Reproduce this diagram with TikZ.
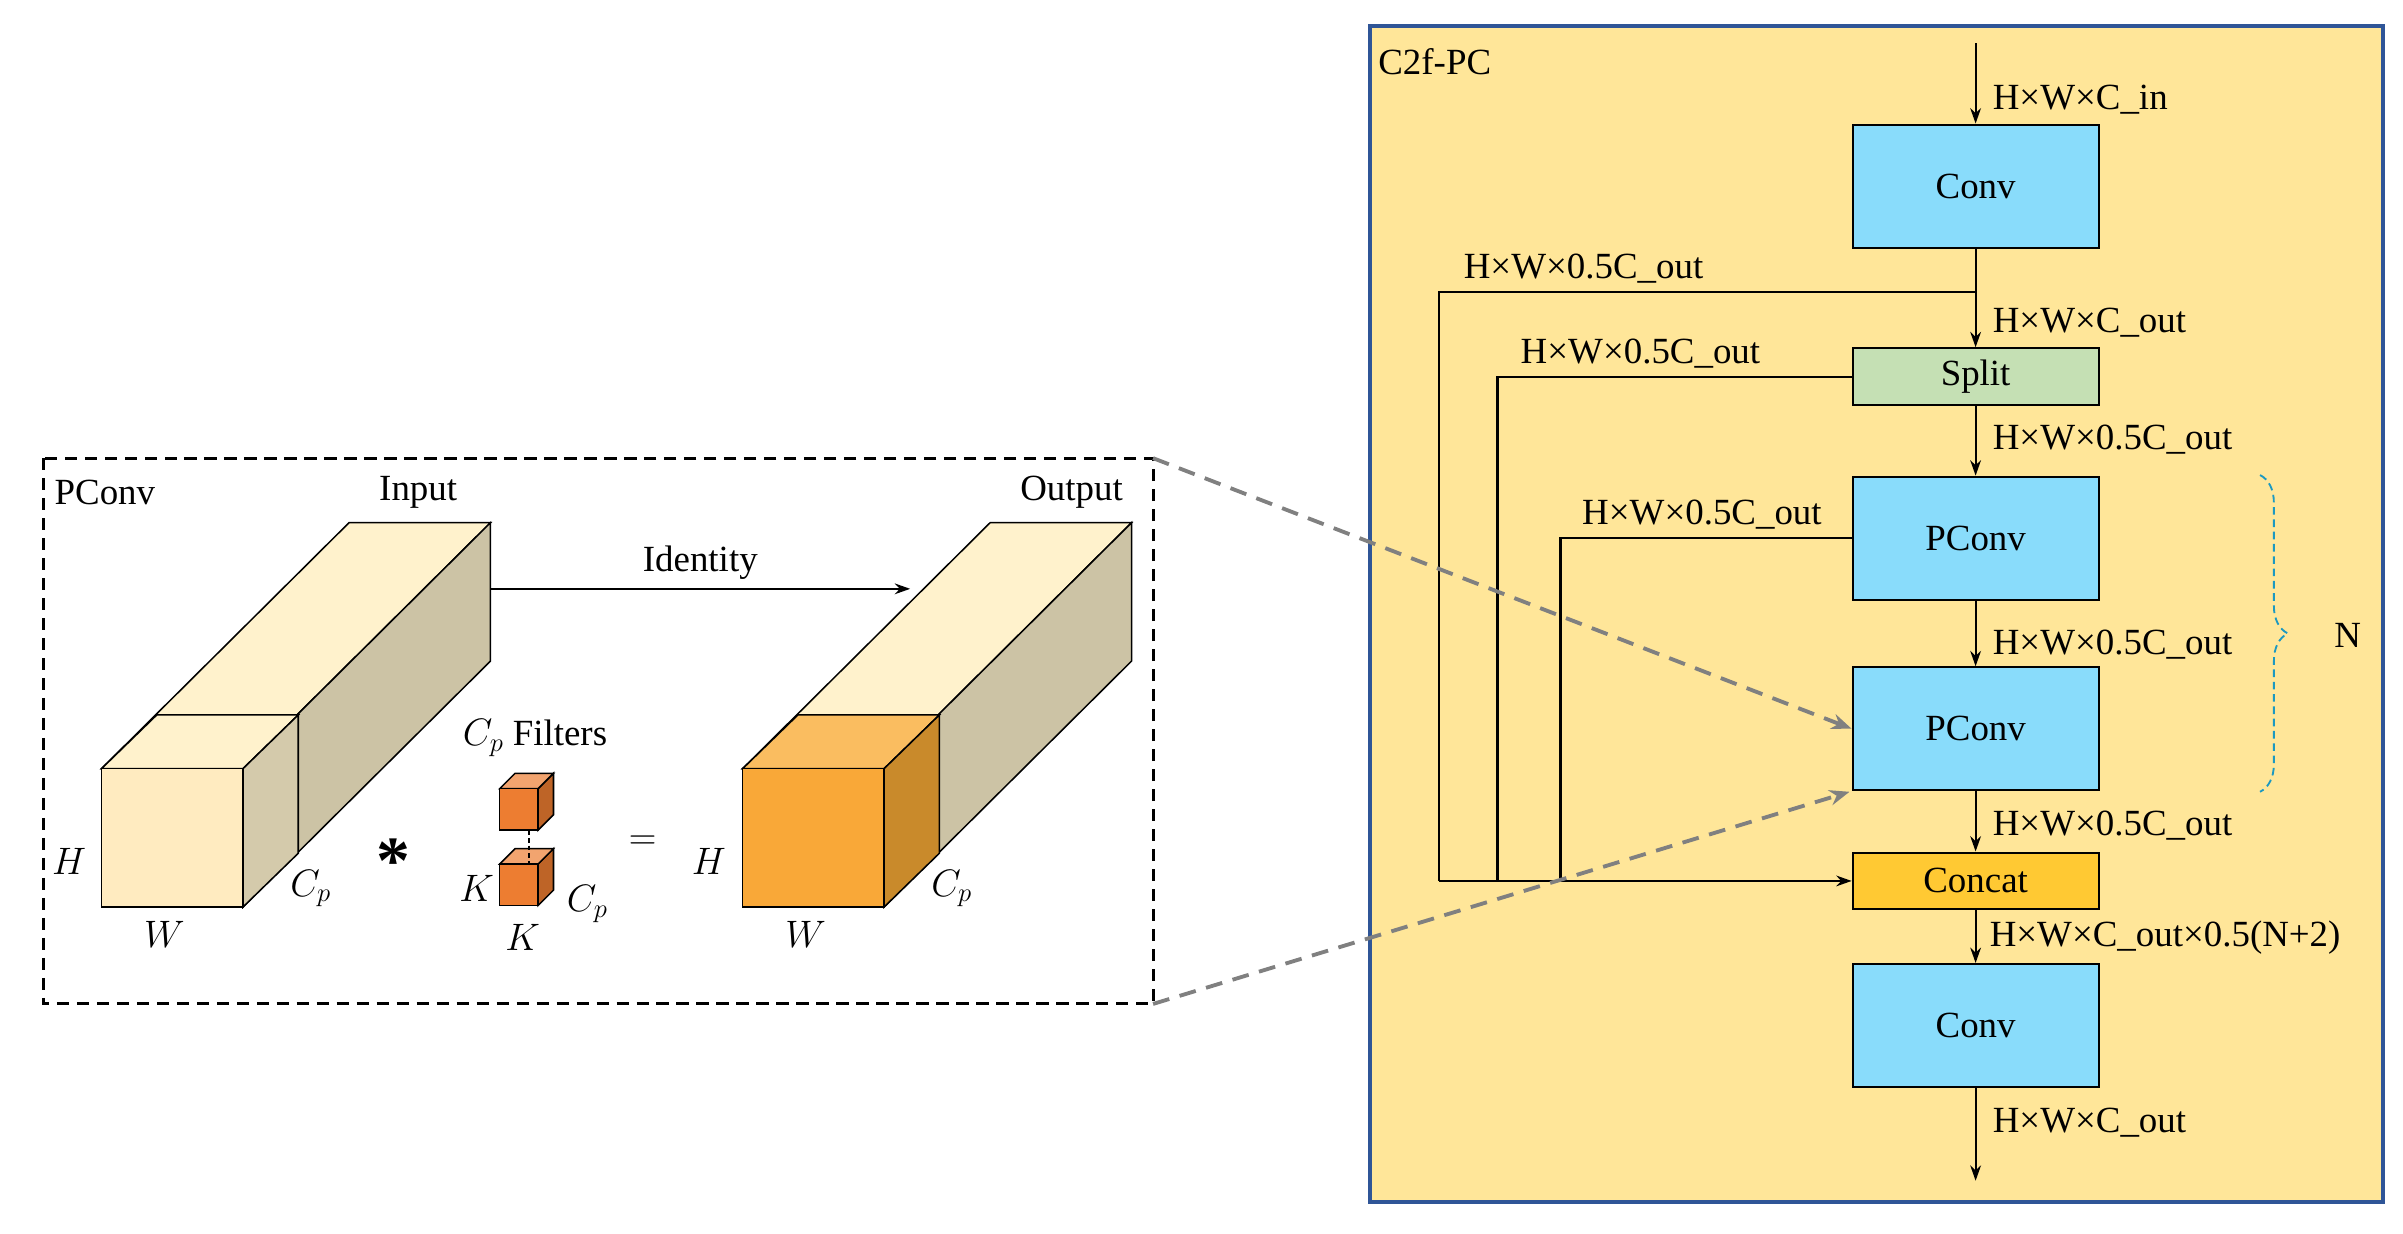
\documentclass[tikz,border=0pt]{standalone}
\usepackage{fontspec}
\setmainfont{Liberation Serif}
\usetikzlibrary{arrows.meta,decorations.pathreplacing}
\definecolor{panel}{HTML}{FFE699}
\definecolor{pborder}{HTML}{2F5597}
\definecolor{cyanb}{HTML}{89DCFB}
\definecolor{greenb}{HTML}{C5E0B4}
\definecolor{concatb}{HTML}{FFC933}
\definecolor{lightf}{HTML}{FFF2CC}
\definecolor{tan}{HTML}{CCC3A5}
\definecolor{orf}{HTML}{F9A838}
\definecolor{ors}{HTML}{C98A2B}
\definecolor{ort}{HTML}{FABD60}
\definecolor{filt}{HTML}{ED7D31}
\begin{document}
\begin{tikzpicture}[x=1pt,y=-1pt,font=\fontsize{24}{28}\selectfont,
  blk/.style={draw=black,line width=1.3pt,minimum width=160pt,minimum height=80pt,fill=cyanb},
  thin/.style={draw=black,line width=1.3pt,minimum width=160pt,minimum height=37pt},
  arr/.style={-{Stealth[length=10pt,width=7pt]},line width=1.3pt},
  lab/.style={anchor=west,inner sep=0pt},
  face/.style={draw=black,line width=1pt}]
\useasboundingbox (0,0) rectangle (1563,802);
% right panel
\draw[pborder,line width=2.5pt,fill=panel] (891,17) rectangle (1550,782);
\node[anchor=west] (t) at (893,40) {C2f-PC};
\node[blk] (c1) at (1285,121) {Conv};
\node[thin,fill=greenb] (sp) at (1285,245) {Split};
\node[blk] (p1) at (1285,350) {PConv};
\node[blk] (p2) at (1285,474) {PConv};
\node[thin,fill=concatb] (cc) at (1285,573) {Concat};
\node[blk] (c2) at (1285,667) {Conv};
\coordinate (top) at (1285,28);
\coordinate (bot) at (1285,768);
\draw[arr] (top) -- (c1);
\draw[arr] (c1) -- (sp);
\draw[arr] (sp) -- (p1);
\draw[arr] (p1) -- (p2);
\draw[arr] (p2) -- (cc);
\draw[arr] (cc) -- (c2);
\draw[arr] (c2) -- (bot);
\node[lab] at (1296,65) {H×W×C\_in};
\node[lab] at (1296,210) {H×W×C\_out};
\node[lab] at (1296,286) {H×W×0.5C\_out};
\node[lab] at (1296,419) {H×W×0.5C\_out};
\node[lab] at (1296,537) {H×W×0.5C\_out};
\node[lab] at (1294,610) {H×W×C\_out×0.5(N+2)};
\node[lab] at (1296,730) {H×W×C\_out};
\coordinate (b1) at (1285,190);
\draw[line width=1.4pt] (b1) -- (936,190) -- (936,573);
\draw[line width=1.4pt] (sp.west) -- (974,245) -- (974,573);
\draw[line width=1.4pt] (p1.west) -- (1015,350) -- (1015,573);
\draw[arr] (936,573) -- (cc.west);
\node[inner sep=0pt] at (1030,175) {H×W×0.5C\_out};
\node[inner sep=0pt] at (1067,230) {H×W×0.5C\_out};
\node[inner sep=0pt] at (1107,335) {H×W×0.5C\_out};
\draw[pborder!60!cyan,line width=1.2pt,dash pattern=on 5pt off 3pt,decorate,decoration={brace,amplitude=18pt}] (1470,309) -- (1470,515);
\node (N) at (1527,413) {N};
% left box
\draw[line width=2pt,dash pattern=on 8pt off 5pt] (28,298) rectangle (750,653);
\node[anchor=west] at (32,320) {PConv};
\coordinate (lt) at (750,298);
\coordinate (lb) at (750,653);
\draw[gray,line width=2.5pt,dash pattern=on 11pt off 7pt,-{Stealth[length=13pt,width=10pt]}] (lt) -- (p2.west);
\draw[gray,line width=2.5pt,dash pattern=on 11pt off 7pt,-{Stealth[length=13pt,width=10pt]}] (lb) -- (1203,515);
% input prism
\begin{scope}
\draw[face,fill=lightf] (66,500) -- (227,340) -- (319,340) -- (158,500) -- cycle;
\draw[face,fill=tan] (158,500) -- (319,340) -- (319,430) -- (158,590) -- cycle;
\draw[face,fill=lightf] (66,500) -- (102,465) -- (194,465) -- (158,500) -- cycle;
\draw[face,fill=tan!85!lightf] (158,500) -- (194,465) -- (194,555) -- (158,590) -- cycle;
\draw[face,fill=lightf!80!orange!30!lightf] (66,500) rectangle (158,590);
\end{scope}
\begin{scope}[shift={(417,0)}]
\draw[face,fill=lightf] (66,500) -- (227,340) -- (319,340) -- (158,500) -- cycle;
\draw[face,fill=tan] (158,500) -- (319,340) -- (319,430) -- (158,590) -- cycle;
\draw[face,fill=ort] (66,500) -- (102,465) -- (194,465) -- (158,500) -- cycle;
\draw[face,fill=ors] (158,500) -- (194,465) -- (194,555) -- (158,590) -- cycle;
\draw[face,fill=orf] (66,500) rectangle (158,590);
\end{scope}
\coordinate (ia) at (319,383);
\coordinate (ib) at (592,383);
\draw[arr] (ia) -- (ib) node[midway,above=2pt] {Identity};
\node at (272,320) {Input};
\node at (697,320) {Output};
\node at (45,560) {$H$};
\node at (107,608) {$W$};
\node at (202,578) {$C_p$};
\node at (461,560) {$H$};
\node at (524,608) {$W$};
\node at (619,578) {$C_p$};
\node at (256,560) {\fontsize{44}{44}\selectfont\bfseries *};
\node at (418,548) {\fontsize{40}{40}\selectfont $=$};
% filters
\foreach \yy in {513,562}{
\draw[face,fill=filt!80!black] (350,\yy) -- (360,\yy-10) -- (360,\yy+17) -- (350,\yy+27) -- cycle;
\draw[face,fill=filt!70!white] (325,\yy) -- (335,\yy-10) -- (360,\yy-10) -- (350,\yy) -- cycle;
\draw[face,fill=filt] (325,\yy) rectangle (350,\yy+27);
}
\draw[line width=1pt,dash pattern=on 3pt off 2pt] (344,540) -- (344,562);
\node at (348,480) {$C_p$ Filters};
\node at (310,578) {$K$};
\node at (340,610) {$K$};
\node at (382,588) {$C_p$};
\end{tikzpicture}
\end{document}
